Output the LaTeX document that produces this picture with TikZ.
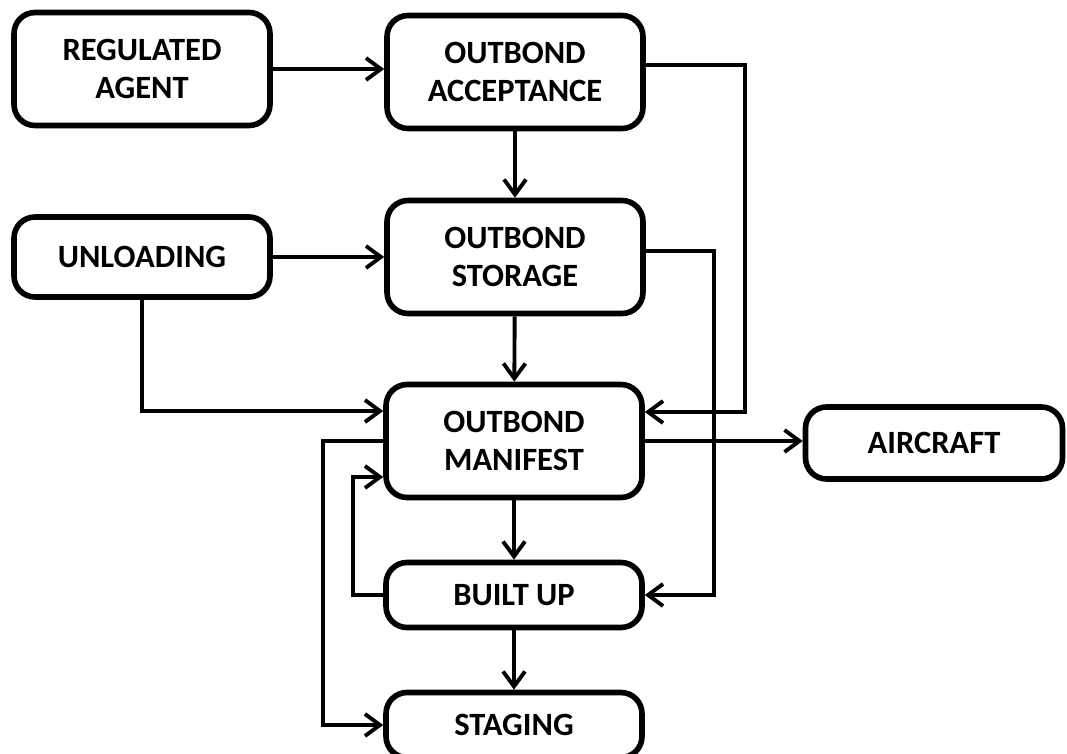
\documentclass[tikz,border=0pt]{standalone}
\usepackage{fontspec}
\setmainfont{Carlito}
\usetikzlibrary{arrows.meta}
\tikzset{
  box/.style={draw,line width=3.2pt,rounded corners=0.42cm,minimum width=5.12cm,align=center,
    font=\fontsize{18.5}{21.5}\selectfont\bfseries,inner sep=0pt},
  arr/.style={line width=2.2pt,-{Straight Barb[length=0.3cm,width=0.44cm,line width=2.2pt]}}
}
\begin{document}
\begin{tikzpicture}[x=0.02cm,y=-0.02cm]
  \useasboundingbox (0,0) rectangle (1067,753);
  \node[box,minimum height=2.26cm] (ra) at (142,69) {REGULATED\\AGENT};
  \node[box,minimum height=2.26cm] (oa) at (515,72) {OUTBOND\\ACCEPTANCE};
  \node[box,minimum height=1.6cm] (un) at (142,257) {UNLOADING};
  \node[box,minimum height=2.26cm] (os) at (515,257) {OUTBOND\\STORAGE};
  \node[box,minimum height=2.26cm] (om) at (514,441) {OUTBOND\\MANIFEST};
  \node[box,minimum height=1.44cm,minimum width=5.14cm] (air) at (934,443) {AIRCRAFT};
  \node[box,minimum height=1.3cm] (bu) at (514,595) {BUILT UP};
  \node[box,minimum height=1.3cm] (stg) at (514,725) {STAGING};

  \draw[arr] (ra) -- (ra -| oa.west);
  \draw[arr] (oa) -- (os);
  \draw[arr] (un) -- (un -| os.west);
  \draw[arr] (os) -- (om);
  \draw[arr] (un.south) |- ([yshift=0.6cm]om.west);
  \draw[arr] ([yshift=0.14cm]oa.east) -- ++(1.98cm,0) |- ([yshift=0.58cm]om.east);
  \draw[arr] ([yshift=0.12cm]os.east) -- ++(1.36cm,0) |- (bu.east);
  \draw[arr] (om.east) -- (om.east -| air.west);
  \draw[arr] (om.west) -- ++(-1.2cm,0) |- (stg.west);
  \draw[arr] (bu.west) -- ++(-0.6cm,0) |- ([yshift=-0.72cm]om.west);
  \draw[arr] (om) -- (bu);
  \draw[arr] (bu) -- (stg);
\end{tikzpicture}
\end{document}
